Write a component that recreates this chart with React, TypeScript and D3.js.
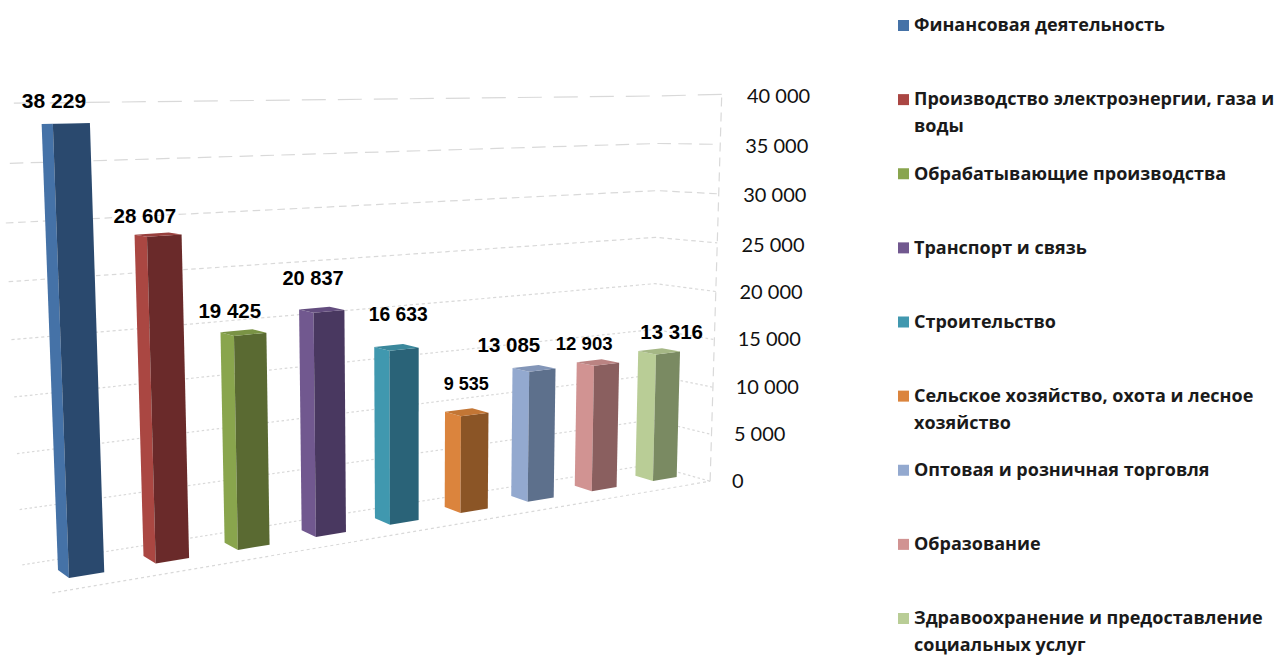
import * as d3 from "d3";

const categories = [
  ["Финансовая деятельность"],
  ["Производство электроэнергии, газа и", "воды"],
  ["Обрабатывающие производства"],
  ["Транспорт и связь"],
  ["Строительство"],
  ["Сельское хозяйство, охота и лесное", "хозяйство"],
  ["Оптовая и розничная торговля"],
  ["Образование"],
  ["Здравоохранение и предоставление", "социальных услуг"],
];
const values = [38229, 28607, 19425, 20837, 16633, 9535, 13085, 12903, 13316];
const ticks = [0, 5000, 10000, 15000, 20000, 25000, 30000, 35000, 40000];

const sideColors = ["#4572a7", "#aa4643", "#89a54e", "#71588f", "#4198af", "#db843d", "#93a9cf", "#d19392", "#b9cd96"];
const frontColors = ["#2c4a6e", "#6b2c2a", "#5a6b33", "#4a3860", "#2a6478", "#8b5528", "#5d6f8c", "#8a5e5e", "#7a8a62"];
const topColors = ["#3d6595", "#983f3c", "#7a9345", "#644e7f", "#3a889c", "#c37636", "#8396b8", "#ba8382", "#a5b785"];

// label placement, hand fitted per bar
const labelNudge = [[-17.5, -16], [-19.5, -13], [-20.5, -16], [-16, -26], [-6, -28], [-8.5, -24.5], [-33.5, -18], [-22.5, -14.5], [3.5, -14]];
const labelSize = [21, 20.5, 20.5, 20, 19.3, 18, 20.5, 18.6, 20.5];

const fmt = (n: number) => d3.format(",")(n).replace(/,/g, " ");

// floor/wall extents in chart units (u = category index, v = bar depths)
const uRight = 8.6;
const vFront = -1.18;
const vBack = 2.15;
const barWidth = 0.4;

// homography fitted to the 3d view
const wk = -1.167e-6;
function project(u: number, v: number, w: number): [number, number] {
  const d = 1 + 0.02757 * u + 0.01806 * v + wk * w;
  const x = 91 * u - 9.95 * v + 415 * wk * w + 69;
  const y = 1.14 * u + 2.294 * v + 10300 * wk * w + 578;
  return [x / d, y / d];
}

const poly = d3.line<[number, number]>().curve(d3.curveLinearClosed);
const open = d3.line<[number, number]>();

const dash = d3.scalePow().exponent(5).domain([0, 40000]).range([2.5, 24]);
const gap = d3.scalePow().exponent(5).domain([0, 40000]).range([2.5, 12]);
const uLeftAt = d3.scaleLinear().domain([0, 30000, 40000]).range([-0.27, -0.3, -0.16]);
const gridRight = d3.scaleLinear().domain([0, 40000]).range([0, 39500]);
const tickX = d3.scaleLinear().domain([0, 40000]).range([732, 747]);
const tickY = d3.scaleLinear().domain([0, 25000, 40000]).range([481, 245, 96]);

const legendY = d3.scaleLinear().domain([0, 8]).range([25, 618]);

export default function App() {
  return (
    <svg width={1276} height={655} style={{ position: "absolute", left: 0, top: 0, display: "block", background: "#fff" }}>
      <defs>
        <filter id="soft" x="-5%" y="-5%" width="110%" height="110%">
          <feGaussianBlur stdDeviation="0.5" />
        </filter>
      </defs>

      {/* grid */}
      <g fill="none" stroke="#d9d9d9" strokeWidth={1.2}>
        {ticks.map((t) => (
          <path
            key={t}
            d={open([project(uLeftAt(t), vBack, t), project(uRight, vBack, gridRight(t)), project(uRight, vFront, gridRight(t))]) ?? ""}
            strokeDasharray={`${dash(t)} ${gap(t)}`}
          />
        ))}
        <path d={open([project(-0.33, vFront, 0), project(uRight, vFront, 0)]) ?? ""} strokeDasharray="3 3" />
        <path d={open([project(uRight, vFront, 0), project(uRight, vFront, gridRight(40000))]) ?? ""} strokeDasharray="9 6" />
      </g>

      {/* bars */}
      <g filter="url(#soft)">
        {values.map((val, i) => {
          const a = i;
          const b = i + barWidth;
          return (
            <g key={i}>
              <path d={poly([project(a, 0, 0), project(a, 1, 0), project(a, 1, val), project(a, 0, val)]) ?? ""} fill={sideColors[i]} />
              <path d={poly([project(a, 0, 0), project(b, 0, 0), project(b, 0, val), project(a, 0, val)]) ?? ""} fill={frontColors[i]} />
              <path d={poly([project(a, 0, val), project(b, 0, val), project(b, 1, val), project(a, 1, val)]) ?? ""} fill={topColors[i]} />
            </g>
          );
        })}
      </g>

      {/* value labels */}
      <g fontFamily="'Liberation Sans', Arial, sans-serif" fontWeight="bold" textAnchor="middle" fill="#000">
        {values.map((val, i) => {
          const [x, y] = project(i + barWidth / 2, 0, val);
          return (
            <text key={i} x={x + labelNudge[i][0]} y={y + labelNudge[i][1]} fontSize={labelSize[i]}>
              {fmt(val)}
            </text>
          );
        })}
      </g>

      {/* value axis */}
      <g fontFamily="Lato, 'Open Sans', sans-serif" fontSize={20} fill="#111">
        {ticks.map((t) => (
          <text key={t} x={tickX(t)} y={tickY(t)} dy="0.35em">
            {fmt(t)}
          </text>
        ))}
      </g>

      {/* legend */}
      <g fontFamily="'Open Sans', sans-serif" fontWeight="bold" fontSize={18} fill="#1a1a1a">
        {categories.map((lines, i) => (
          <g key={i}>
            <rect x={898} y={legendY(i) - 5} width={11} height={11} fill={sideColors[i]} />
            {lines.map((line, j) => (
              <text key={j} x={914} y={legendY(i) + j * 27} dy="0.35em">
                {line}
              </text>
            ))}
          </g>
        ))}
      </g>
    </svg>
  );
}
